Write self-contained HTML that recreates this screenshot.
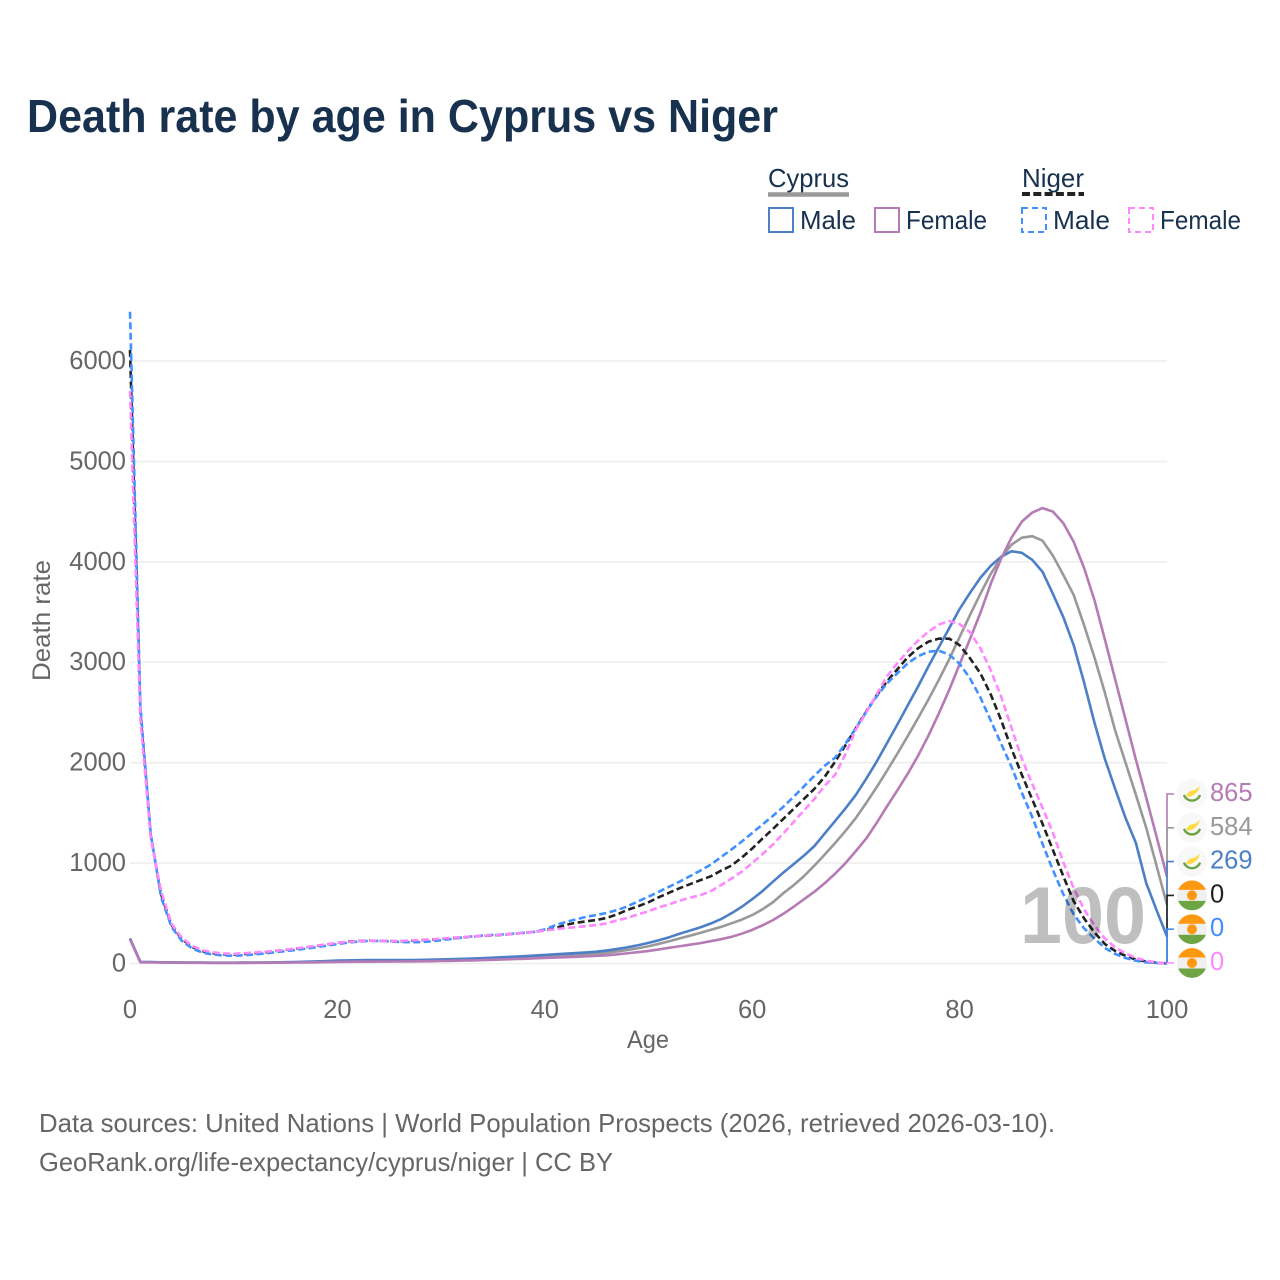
<!DOCTYPE html>
<html lang="en">
<head>
<meta charset="utf-8">
<title>Death rate by age in Cyprus vs Niger</title>
<style>
html,body{margin:0;padding:0;background:#fff;}
svg{display:block;font-family:"Liberation Sans",sans-serif;}
</style>
</head>
<body>
<svg id="chart" xmlns="http://www.w3.org/2000/svg" width="1280" height="1280" viewBox="0 0 1280 1280">
  <rect x="0" y="0" width="1280" height="1280" fill="#fff"/>
  <text x="27" y="132" font-size="46" font-weight="700" fill="#17314f" textLength="751" lengthAdjust="spacingAndGlyphs">Death rate by age in Cyprus vs Niger</text>

  <g font-size="26" fill="#17314f">
    <text x="768" y="187" textLength="81" lengthAdjust="spacingAndGlyphs">Cyprus</text>
    <line x1="768" y1="194.5" x2="849" y2="194.5" stroke="#999" stroke-width="4.5"/>
    <text x="1022" y="187" textLength="62" lengthAdjust="spacingAndGlyphs">Niger</text>
    <line x1="1022" y1="194" x2="1084" y2="194" stroke="#222" stroke-width="4" stroke-dasharray="8,3.3"/>
    <rect x="769" y="208" width="24" height="24" fill="none" stroke="#4d7fc7" stroke-width="2"/>
    <text x="800" y="229" textLength="56" lengthAdjust="spacingAndGlyphs">Male</text>
    <rect x="875" y="208" width="24" height="24" fill="none" stroke="#b57bb5" stroke-width="2"/>
    <text x="906" y="229" textLength="81" lengthAdjust="spacingAndGlyphs">Female</text>
    <rect x="1022" y="208" width="24" height="24" fill="none" stroke="#4090ff" stroke-width="2" stroke-dasharray="6,4"/>
    <text x="1053" y="229" textLength="57" lengthAdjust="spacingAndGlyphs">Male</text>
    <rect x="1129" y="208" width="24" height="24" fill="none" stroke="#ff88ff" stroke-width="2" stroke-dasharray="6,4"/>
    <text x="1160" y="229" textLength="81" lengthAdjust="spacingAndGlyphs">Female</text>
  </g>

  <g id="grid"></g>
  <g id="yticks"></g>
  <g id="xticks"></g>
  <g id="series"></g>
  <g id="connectors"></g>
  <g id="endlabels"></g>

  <text x="1020" y="943" font-size="81" font-weight="700" fill="rgba(0,0,0,0.25)" textLength="126" lengthAdjust="spacingAndGlyphs">100</text>

  <text x="627" y="1048" font-size="25" fill="#666" textLength="42" lengthAdjust="spacingAndGlyphs">Age</text>
  <text transform="translate(50,681) rotate(-90)" x="0" y="0" font-size="25" fill="#666" textLength="121" lengthAdjust="spacingAndGlyphs">Death rate</text>

  <g font-size="26" fill="#666">
    <text x="39" y="1132" textLength="1016" lengthAdjust="spacingAndGlyphs">Data sources: United Nations | World Population Prospects (2026, retrieved 2026-03-10).</text>
    <text x="39" y="1171" textLength="574" lengthAdjust="spacingAndGlyphs">GeoRank.org/life-expectancy/cyprus/niger | CC BY</text>
  </g>
</svg>

<script>
var yTickValues = [0, 1000, 2000, 3000, 4000, 5000, 6000];
var xTickValues = [0, 20, 40, 60, 80, 100];

var cyprusTotal = [245,14,13,11,10,9,8,8,7,7,7,8,8,9,10,11,13,15,17,20,23,25,26,27,27,27,27,28,29,31,33,35,38,41,44,48,52,56,61,66,71,76,81,86,91,98,108,120,135,152,172,196,222,250,277,305,335,365,400,437,482,540,610,700,780,870,975,1085,1200,1320,1450,1600,1755,1920,2090,2265,2445,2630,2825,3030,3250,3470,3680,3880,4040,4170,4240,4255,4210,4060,3870,3670,3370,3050,2700,2320,2000,1680,1350,970,584];
var cyprusMale = [250,16,14,12,11,10,9,9,8,8,8,9,9,10,11,13,15,18,21,25,29,31,33,34,34,34,34,35,36,38,40,43,46,49,53,58,63,68,73,79,85,92,98,104,110,118,130,145,162,182,205,232,262,296,328,360,398,442,500,565,640,722,815,905,990,1075,1170,1295,1420,1545,1680,1840,2010,2195,2380,2570,2760,2960,3150,3340,3530,3690,3840,3960,4050,4105,4090,4020,3900,3680,3450,3170,2800,2400,2040,1740,1450,1200,800,530,269];
var cyprusFemale = [240,12,11,10,9,8,7,7,6,6,6,6,7,7,8,9,10,11,12,14,16,17,18,18,19,19,20,21,22,23,25,27,29,31,34,37,40,44,47,51,55,59,63,67,71,76,82,91,102,113,125,140,157,172,187,203,222,242,265,297,335,380,432,495,565,640,715,800,895,1000,1120,1245,1400,1565,1725,1890,2070,2270,2490,2725,2980,3230,3490,3780,4030,4240,4400,4490,4535,4500,4385,4200,3940,3620,3230,2830,2430,2030,1650,1260,865];
var nigerTotal = [6110,2500,1270,690,385,245,165,122,103,92,90,95,103,113,125,135,147,160,175,190,205,218,225,228,226,222,222,226,232,238,244,252,260,268,274,280,287,295,305,315,330,350,385,405,420,433,455,490,535,570,610,660,705,750,790,830,868,925,975,1055,1145,1245,1340,1440,1540,1640,1740,1860,2010,2175,2345,2510,2670,2810,2930,3050,3140,3205,3235,3235,3170,3040,2890,2680,2425,2140,1880,1635,1390,1130,870,620,450,310,195,125,75,40,20,8,0];
var nigerMale = [6490,2560,1290,660,365,225,150,108,90,80,78,82,90,100,112,123,135,148,163,178,193,208,218,225,225,220,215,212,213,220,232,245,258,270,278,284,290,298,306,316,340,380,413,440,465,483,505,533,570,620,665,715,765,815,870,925,985,1060,1135,1215,1300,1385,1470,1560,1660,1765,1870,1970,2050,2190,2345,2505,2660,2790,2890,2990,3060,3105,3115,3075,2985,2840,2650,2420,2190,1960,1700,1460,1190,930,690,490,350,250,155,95,55,28,12,5,0];
var nigerFemale = [5700,2440,1250,720,395,255,175,132,112,100,97,102,110,118,125,137,150,162,178,192,205,217,223,227,225,222,224,230,235,240,248,256,263,270,275,281,288,295,304,317,328,340,353,362,372,383,400,430,455,490,520,560,590,625,655,680,720,780,845,915,1000,1090,1185,1295,1410,1525,1640,1770,1880,2085,2330,2500,2680,2860,2990,3110,3215,3305,3375,3410,3380,3300,3140,2920,2660,2350,2040,1790,1550,1300,1010,750,540,380,250,160,100,55,28,10,0];

var svgNS = 'http://www.w3.org/2000/svg';
function xScale(age) { return 130 + age * 10.37; }
function yScale(v) { return 963.5 - v * 0.10042; }
function node(tag, parent) {
  var el = document.createElementNS(svgNS, tag);
  parent.appendChild(el);
  return el;
}

var gridGroup = document.getElementById('grid');
var yGroup = document.getElementById('yticks');
var xGroup = document.getElementById('xticks');
var seriesGroup = document.getElementById('series');
var connGroup = document.getElementById('connectors');
var labelGroup = document.getElementById('endlabels');

yTickValues.forEach(function (v) {
  var ln = node('line', gridGroup);
  
  
  ln.setAttribute('x1', xScale(0));
  ln.setAttribute('x2', xScale(100));
  ln.setAttribute('y1', yScale(v));
  ln.setAttribute('y2', yScale(v));
  ln.setAttribute('stroke', '#eeeeee');
  ln.setAttribute('stroke-width', '1.6');
  var t = node('text', yGroup);
  
  
  t.setAttribute('x', 126);
  t.setAttribute('y', yScale(v) + 8);
  t.setAttribute('text-anchor', 'end');
  t.setAttribute('font-size', '25.5');
  t.setAttribute('fill', '#666');
  t.textContent = v;
});

xTickValues.forEach(function (v) {
  var t = node('text', xGroup);
  
  
  t.setAttribute('x', xScale(v));
  t.setAttribute('y', 1018);
  t.setAttribute('text-anchor', 'middle');
  t.setAttribute('font-size', '25.5');
  t.setAttribute('fill', '#666');
  t.textContent = v;
});

function drawSeries(values, color, dashed, name) {
  var pts = values.map(function (v, i) {
    return xScale(i).toFixed(2) + ',' + yScale(v).toFixed(2);
  }).join(' ');
  var pl = node('polyline', seriesGroup);
  
  
  pl.setAttribute('points', pts);
  pl.setAttribute('fill', 'none');
  pl.setAttribute('stroke', color);
  pl.setAttribute('stroke-width', '2.6');
  pl.setAttribute('stroke-linejoin', 'round');
  if (dashed) pl.setAttribute('stroke-dasharray', '7,3.5');
}

drawSeries(cyprusTotal, '#999999', false, 'line-cyprus-total');
drawSeries(cyprusMale, '#4d7fc7', false, 'line-cyprus-male');
drawSeries(cyprusFemale, '#b57bb5', false, 'line-cyprus-female');
drawSeries(nigerTotal, '#222222', true, 'line-niger-total');
drawSeries(nigerMale, '#4090ff', true, 'line-niger-male');
drawSeries(nigerFemale, '#ff88ff', true, 'line-niger-female');

function drawCyprusFlag(parent, cx, cy) {
  var g = node('g', parent);
  
  
  g.setAttribute('transform', 'translate(' + cx + ',' + cy + ')');
  var c = node('circle', g);
  c.setAttribute('r', '15');
  c.setAttribute('fill', '#f8f8f8');
  var island = node('polygon', g);
  island.setAttribute('points', '-6,1 -2,-3 3,-4 8,-8 6,-3 3,0 0,2 -4,3');
  island.setAttribute('fill', '#ffda44');
  var wreath = node('path', g);
  wreath.setAttribute('d', 'M-8,1 A8.5,8.5 0 0 0 8,1');
  wreath.setAttribute('fill', 'none');
  wreath.setAttribute('stroke', '#6da544');
  wreath.setAttribute('stroke-width', '2.4');
}

function drawNigerFlag(parent, cx, cy) {
  var g = node('g', parent);
  
  
  g.setAttribute('transform', 'translate(' + cx + ',' + cy + ')');
  var c = node('circle', g);
  c.setAttribute('r', '15');
  c.setAttribute('fill', '#f0f0f0');
  var top = node('path', g);
  top.setAttribute('d', 'M-13.9,-5.5 A15,15 0 0 1 13.9,-5.5 Z');
  top.setAttribute('fill', '#ff9811');
  var bottom = node('path', g);
  bottom.setAttribute('d', 'M-13.9,5.5 A15,15 0 0 0 13.9,5.5 Z');
  bottom.setAttribute('fill', '#6da544');
  var sun = node('circle', g);
  sun.setAttribute('r', '5');
  sun.setAttribute('fill', '#ff9811');
}

function drawEndLabel(index, values, color, isCyprus, name) {
  var slotY = 794 + index * 33.8;
  var last = values[values.length - 1];
  var p = node('path', connGroup);
  
  
  p.setAttribute('d', 'M' + xScale(100) + ',' + yScale(last) + ' L' + xScale(100) + ',' + slotY + ' L1174,' + slotY);
  p.setAttribute('fill', 'none');
  p.setAttribute('stroke', color);
  p.setAttribute('stroke-width', '1.6');
  if (isCyprus) drawCyprusFlag(labelGroup, 1192, slotY);
  else drawNigerFlag(labelGroup, 1192, slotY);
  var t = node('text', labelGroup);
  
  
  t.setAttribute('x', 1210);
  t.setAttribute('y', slotY + 7);
  t.setAttribute('font-size', '25.5');
  t.setAttribute('fill', color);
  t.textContent = last;
}

drawEndLabel(0, cyprusFemale, '#b57bb5', true, 'cyprus-female-end');
drawEndLabel(1, cyprusTotal, '#999999', true, 'cyprus-total-end');
drawEndLabel(2, cyprusMale, '#4d7fc7', true, 'cyprus-male-end');
drawEndLabel(3, nigerTotal, '#222222', false, 'niger-total-end');
drawEndLabel(4, nigerMale, '#4090ff', false, 'niger-male-end');
drawEndLabel(5, nigerFemale, '#ff88ff', false, 'niger-female-end');
</script>
</body>
</html>
